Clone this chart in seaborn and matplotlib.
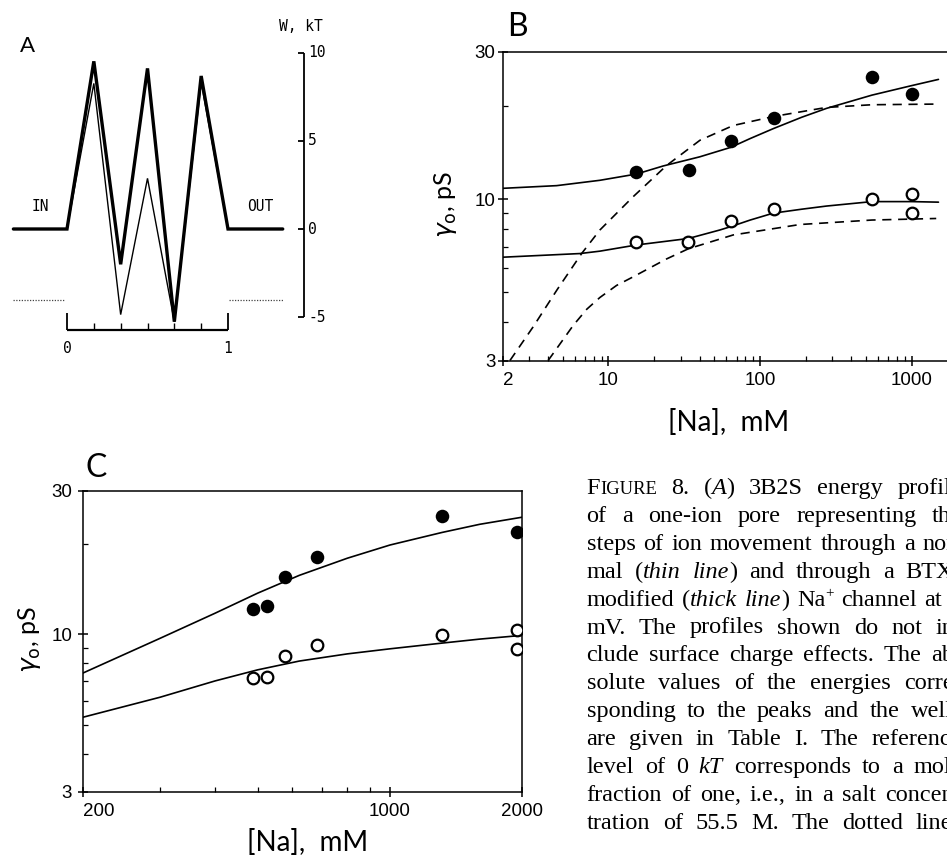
import re
import numpy as np
import matplotlib
matplotlib.use("Agg")
import matplotlib.pyplot as plt
import matplotlib.transforms as mtrans
from matplotlib import font_manager as fm
from matplotlib.ticker import FixedLocator, FixedFormatter, NullFormatter, LogLocator
import seaborn as sns

# ---------------- data ----------------
# Panel A: 3B2S energy profiles (kT) vs electrical distance
a_dist = [-0.333, 0.0, 1/6, 2/6, 3/6, 4/6, 5/6, 1.0, 1.34]
a_thick = [0, 0, 9.5, -2.0, 9.1, -5.25, 8.67, 0, 0]      # BTX-modified
a_thin = [0, 0, 8.25, -4.85, 2.87, -5.25, 8.3, 0, 0]     # normal
a_dot_in = [-0.333, -0.012]
a_dot_out = [1.006, 1.34]
a_dot_level = -4.02
a_dist_ticks = [0, 1/6, 2/6, 3/6, 4/6, 5/6, 1]
a_dist_labels = ["0", "1"]
a_energy_ticks = [10, 5, 0, -5]

# Panel B: conductance vs [Na]
b_na_filled = [15.3, 33.9, 64.1, 124, 546, 1000]
b_g_filled = [12.2, 12.4, 15.45, 18.3, 24.9, 21.9]
b_na_open = [15.3, 33.3, 64.1, 124, 546, 1000, 1000]
b_g_open = [7.24, 7.26, 8.49, 9.26, 9.98, 10.38, 9.03]
b_solid_up_x = [2, 4.55, 8.78, 15.3, 23, 40, 64, 86, 122, 188, 274, 546, 1000, 1500]
b_solid_up_y = [10.83, 11.05, 11.5, 12.05, 12.8, 13.7, 14.7, 15.7, 16.9, 18.4, 19.66, 21.7,
                23.3, 24.4]
b_solid_lo_x = [2, 6.49, 8.78, 15.3, 33.6, 54.3, 64, 86, 122, 188, 274, 546, 1000, 1500]
b_solid_lo_y = [6.48, 6.66, 6.78, 7.1, 7.45, 7.94, 8.14, 8.55, 9.0, 9.27, 9.49, 9.81, 9.81,
                9.77]
b_dash_up_x = [2.24, 3.19, 4.6, 6.65, 8.78, 14.56, 24.2, 40.1, 66.4, 122, 274, 546, 1450]
b_dash_up_y = [3.0, 3.86, 5.1, 6.66, 7.94, 10.18, 12.85, 15.5, 17.3, 18.5, 19.8, 20.2, 20.3]
b_dash_lo_x = [4.0, 5.86, 7.2, 8.78, 11.3, 14.56, 24.2, 33.6, 66.4, 183, 546, 1450]
b_dash_lo_y = [3.0, 3.9, 4.4, 4.8, 5.25, 5.6, 6.4, 6.9, 7.65, 8.27, 8.55, 8.65]
b_xticks = [2, 10, 100, 1000]
b_xlabels = ["2", "10", "100", "1000"]

# Panel C: conductance vs [Na] (high range)
c_na_filled = [489, 524, 577, 681, 1314, 1950]
c_g_filled = [12.1, 12.4, 15.5, 18.1, 24.8, 21.8]
c_na_open = [489, 524, 577, 681, 1314, 1950, 1950]
c_g_open = [7.17, 7.2, 8.46, 9.19, 9.92, 10.31, 8.96]
c_fit_x = [200, 300, 400, 500, 622, 800, 1000, 1314, 1600, 2000]
c_fit_up = [7.43, 9.7, 11.75, 13.7, 15.7, 17.9, 19.8, 21.8, 23.2, 24.5]
c_fit_lo = [5.30, 6.18, 7.0, 7.62, 8.15, 8.61, 8.95, 9.35, 9.64, 9.92]
c_xticks = [200, 1000, 2000]
c_xlabels = ["200", "1000", "2000"]

g_yticks = [3, 10, 30]
g_ylabels = ["3", "10", "30"]

caption_lines = [
    "F{IGURE} 8. (*A*) 3B2S energy profile",
    "of a one-ion pore representing the",
    "steps of ion movement through a nor-",
    "mal (*thin* *line*) and through a BTX-",
    "modified (*thick* *line*) Na^[+] channel at 0",
    "mV. The profiles shown do not in-",
    "clude surface charge effects. The ab-",
    "solute values of the energies corre-",
    "sponding to the peaks and the wells",
    "are given in Table I. The reference",
    "level of 0 *kT* corresponds to a mole",
    "fraction of one, i.e., in a salt concen-",
    "tration of 55.5 M. The dotted lines",
]

# ---------------- style ----------------
sns.set_style("ticks")
plt.rcParams["font.family"] = ["Liberation Sans", "DejaVu Sans"]
plt.rcParams["axes.linewidth"] = 1.1
plt.rcParams["mathtext.fontset"] = "dejavusans"
for k in ("text.color", "axes.labelcolor", "xtick.color", "ytick.color", "axes.edgecolor"):
    plt.rcParams[k] = "black"

names = {f.name for f in fm.fontManager.ttflist}
if "Liberation Sans Narrow" in names:
    NARROW = dict(family="Liberation Sans Narrow", fontsize=12.5)
else:
    NARROW = dict(family="DejaVu Sans Mono", fontsize=10.5)
LIGHT = dict(family=["Lato", "DejaVu Sans"], fontweight="normal", color="black")

W, H = 947, 857
fig = plt.figure(figsize=(W / 100, H / 100), dpi=100)


def box(x0, y0, x1, y1):
    return [x0 / W, 1 - y1 / H, (x1 - x0) / W, (y1 - y0) / H]


def ftext(px, py, s, **kw):
    return fig.text(px / W, 1 - py / H, s, **kw)


# ---------------- Panel A ----------------
axA = fig.add_axes(box(0, 0, 330, 400))
axA.set_xlim(-67 / 161, (330 - 67) / 161)
axA.set_ylim((229 - 400) / 17.65, 229 / 17.65)
axA.axis("off")
sns.lineplot(x=a_dist, y=a_thin, ax=axA, color="black", lw=1.0, sort=False, estimator=None)
sns.lineplot(x=a_dist, y=a_thick, ax=axA, color="black", lw=2.4, sort=False, estimator=None)
for ln in axA.lines:
    ln.set_solid_joinstyle("miter")
for xs in (a_dot_in, a_dot_out):
    sns.lineplot(x=xs, y=[a_dot_level] * len(xs), ax=axA, color="#444444", lw=0.9,
                 linestyle=(0, (1, 1.2)), estimator=None)
# distance axis
ybar = -5.72
axA.hlines(ybar, a_dist_ticks[0], a_dist_ticks[-1], color="black", lw=1.6)
for i, t in enumerate(a_dist_ticks):
    top = -4.78 if i in (0, len(a_dist_ticks) - 1) else -5.3
    axA.vlines(t, ybar, top, color="black", lw=1.3 if top == -4.78 else 1.0)
axA.text(a_dist_ticks[0], -6.75, a_dist_labels[0], ha="center", va="center", **NARROW)
axA.text(a_dist_ticks[-1], -6.75, a_dist_labels[1], ha="center", va="center", **NARROW)
# energy scale
ex = 1.472
axA.vlines(ex, a_energy_ticks[-1], a_energy_ticks[0], color="black", lw=1.3)
for e in a_energy_ticks:
    axA.hlines(e, ex - 0.04, ex, color="black", lw=1.3)
    axA.text(ex + 0.025, e, "%d" % e, ha="left", va="center", **NARROW)
axA.text(1.45, 11.5, "W, kT", ha="center", va="center", **NARROW)
axA.text(-0.168, 1.3, "IN", ha="center", va="center", **NARROW)
axA.text(1.203, 1.3, "OUT", ha="center", va="center", **NARROW)
ftext(27, 46, "A", ha="center", va="center", fontsize=16, **LIGHT)


# ---------------- log panels ----------------
def style_log(ax, xt, xl, ypad, xpad):
    ax.set_xscale("log")
    ax.set_yscale("log")
    ax.xaxis.set_major_locator(FixedLocator(xt))
    ax.xaxis.set_major_formatter(FixedFormatter(xl))
    ax.xaxis.set_minor_locator(LogLocator(base=10, subs=np.arange(2, 10)))
    ax.xaxis.set_minor_formatter(NullFormatter())
    ax.yaxis.set_major_locator(FixedLocator(g_yticks))
    ax.yaxis.set_major_formatter(FixedFormatter(g_ylabels))
    ax.yaxis.set_minor_locator(LogLocator(base=10, subs=np.arange(2, 10)))
    ax.yaxis.set_minor_formatter(NullFormatter())
    ax.tick_params(which="major", direction="inout", length=7, width=1.1, labelsize=13.5,
                   colors="black")
    ax.tick_params(which="minor", direction="in", length=3.5, width=0.9, colors="black")
    ax.tick_params(axis="y", which="major", pad=ypad)
    ax.tick_params(axis="x", which="major", pad=xpad)
    for s in ax.spines.values():
        s.set_visible(True)
        s.set_linewidth(1.1)
        s.set_color("black")
    first = ax.xaxis.get_major_ticks()[0]
    first.label1.set_horizontalalignment("left")


def add_points(ax, xf, yf, xo, yo):
    sns.scatterplot(x=xf, y=yf, ax=ax, color="black", s=95, linewidth=0, zorder=4)
    sns.scatterplot(x=xo, y=yo, ax=ax, color="white", edgecolor="black", s=70,
                    linewidth=1.6, zorder=4)


DASH = (0, (5.5, 4))

# Panel B
axB = fig.add_axes(box(502.5, 51.7, 957.4, 360.5))
axB.set_xscale("log")
axB.set_yscale("log")
sns.lineplot(x=b_solid_up_x, y=b_solid_up_y, ax=axB, color="black", lw=1.2, estimator=None)
sns.lineplot(x=b_solid_lo_x, y=b_solid_lo_y, ax=axB, color="black", lw=1.2, estimator=None)
sns.lineplot(x=b_dash_up_x, y=b_dash_up_y, ax=axB, color="black", lw=1.2, estimator=None,
             linestyle=DASH)
sns.lineplot(x=b_dash_lo_x, y=b_dash_lo_y, ax=axB, color="black", lw=1.2, estimator=None,
             linestyle=DASH)
add_points(axB, b_na_filled, b_g_filled, b_na_open, b_g_open)
axB.set_xlim(2, 2000)
axB.set_ylim(3, 30)
style_log(axB, b_xticks, b_xlabels, ypad=1.5, xpad=5)
axB.set_ylabel(r"$\gamma_{\rm o}$, pS", fontsize=18, **LIGHT)
axB.yaxis.set_label_coords(-0.126, 0.504)
axB.yaxis.label.set(va="center", ha="center")
axB.set_xlabel("[Na],  mM", fontsize=20, **LIGHT)
axB.xaxis.set_label_coords(0.496, -0.202)
axB.xaxis.label.set(va="center")
ftext(517, 27, "B", ha="center", va="center", fontsize=23, **LIGHT)

# Panel C
axC = fig.add_axes(box(82.7, 490.7, 522.3, 791.7))
axC.set_xscale("log")
axC.set_yscale("log")
sns.lineplot(x=c_fit_x, y=c_fit_up, ax=axC, color="black", lw=1.2, estimator=None)
sns.lineplot(x=c_fit_x, y=c_fit_lo, ax=axC, color="black", lw=1.2, estimator=None)
add_points(axC, c_na_filled, c_g_filled, c_na_open, c_g_open)
axC.set_xlim(200, 2000)
axC.set_ylim(3, 30)
style_log(axC, c_xticks, c_xlabels, ypad=4.2, xpad=4.4)
axC.set_ylabel(r"$\gamma_{\rm o}$, pS", fontsize=18, **LIGHT)
axC.yaxis.set_label_coords(-0.120, 0.504)
axC.yaxis.label.set(va="center", ha="center")
axC.set_xlabel("[Na],  mM", fontsize=20, **LIGHT)
axC.xaxis.set_label_coords(0.5125, -0.170)
axC.xaxis.label.set(va="center")
ftext(96.5, 468, "C", ha="center", va="center", fontsize=23, **LIGHT)
for a in (axA, axB, axC):
    if a.get_legend() is not None:
        a.get_legend().remove()

# ---------------- caption (justified) ----------------
ident = mtrans.IdentityTransform()
SERIF = ["Liberation Serif", "DejaVu Serif"]
BASE = 17.5
tok = re.compile(r"\*([^*]+)\*|\{([^}]+)\}|\^\[([^\]]+)\]|([^*{^]+)")
renderer = fig.canvas.get_renderer()
x_left, x_right = 586.5, 962.0
for i, line in enumerate(caption_lines):
    base_y = H - (494 + 27.9 * i)
    words = []
    for w in line.split(" "):
        segs = []
        for m in tok.finditer(w):
            it, sc, sup, nm = m.groups()
            if it:
                t = fig.text(0, 0, it, transform=ident, family=SERIF, fontsize=BASE,
                             style="italic", va="baseline", color="black")
                segs.append((t, 0))
            elif sc:
                t = fig.text(0, 0, sc, transform=ident, family=SERIF, fontsize=BASE * 0.76,
                             va="baseline", color="black")
                segs.append((t, 0))
            elif sup:
                t = fig.text(0, 0, sup, transform=ident, family=SERIF, fontsize=BASE * 0.62,
                             va="baseline", color="black")
                segs.append((t, 8))
            else:
                t = fig.text(0, 0, nm, transform=ident, family=SERIF, fontsize=BASE,
                             va="baseline", color="black")
                segs.append((t, 0))
        widths = [t.get_window_extent(renderer).width for t, _ in segs]
        words.append((segs, widths))
    total = sum(sum(ws) for _, ws in words)
    gap = (x_right - x_left - total) / max(len(words) - 1, 1)
    x = x_left
    for segs, ws in words:
        for (t, dy), wdt in zip(segs, ws):
            t.set_position((x, base_y + dy))
            x += wdt
        x += gap

fig.savefig("out.png", dpi=100)
